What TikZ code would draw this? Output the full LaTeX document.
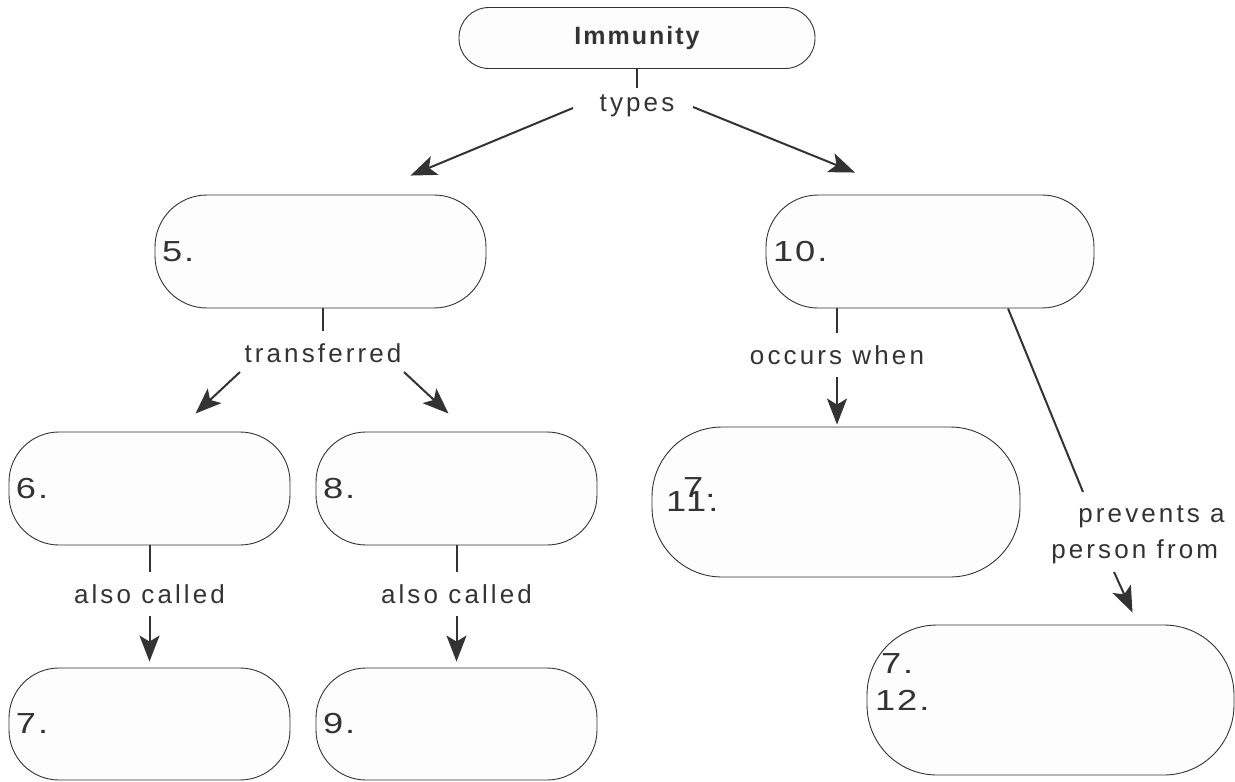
\documentclass[tikz,border=0pt]{standalone}
\usepackage{fontspec}
\setmainfont{Liberation Sans}[LetterSpace=12]
\newfontfamily\numfont{Liberation Sans}[FakeStretch=1.25, LetterSpace=7]
\newfontfamily\titlefont{Liberation Sans}[LetterSpace=8]
\usetikzlibrary{positioning,calc,arrows.meta}
\definecolor{inkgray}{HTML}{333333}
\definecolor{pillfill}{HTML}{FDFDFD}
\tikzset{
  concept/.style n args={3}{draw=inkgray, line width=0.9pt, fill=pillfill, rounded corners=#3,
    text width=#1, minimum height=#2, align=left, inner xsep=7pt, inner ysep=0pt,
    font=\numfont\fontsize{29}{37}\selectfont, text=inkgray},
  linkname/.style={font=\fontsize{26}{36}\selectfont, text=inkgray, text height=18pt,
    text depth=0pt, inner xsep=2pt, inner ysep=13pt},
  link/.style={draw=inkgray, line width=2pt},
  arr/.style={link, -{Stealth[length=26pt,width=20pt,inset=6pt]}},
}

\begin{document}
\begin{tikzpicture}[x=1pt,y=-1pt]
        \useasboundingbox (0,0) rectangle (1235,782);
        % concepts
        \node[concept={342pt}{61pt}{30pt}, align=center, font=\titlefont\fontsize{25}{28}\selectfont\bfseries] (immunity) at (637,38) {Immunity};
        \node[concept={317pt}{113pt}{52pt}] (n5) at (320.5,251.5) {5.};
        \node[concept={314pt}{113pt}{52pt}] (n10) at (930,251.5) {10.};
        \node[concept={267pt}{113pt}{50pt}] (n6) at (149.5,488.5) {6.};
        \node[concept={267pt}{113pt}{50pt}] (n8) at (456.5,488.5) {8.};
        \node[concept={267pt}{112pt}{50pt}] (n7) at (149.5,724) {7.};
        \node[concept={267pt}{112pt}{50pt}] (n9) at (456.5,724) {9.};
        \node[concept={354pt}{150pt}{70pt}] (n11) at (836,502) {\hspace{7pt}1\rlap{\smash{\hspace{-3pt}\raisebox{14pt}{7.}}}1.};
        \node[concept={353pt}{150pt}{70pt}] (n12) at (1050.5,700) {\hspace{1pt}\rlap{\smash{\hspace{6pt}\raisebox{37pt}{7.}}}12.};
        % linking phrases
        \node[linkname] (types) at (637,102) {types};
        \node[linkname] (transferred) at (323,353) {transferred};
        \node[linkname] (alsoA) at (149.5,594) {also called};
        \node[linkname] (alsoB) at (456.5,594) {also called};
        \node[linkname] (occurs) at (837,355) {occurs when};
        \node[font=\fontsize{26}{36}\selectfont, text=inkgray, align=left, inner sep=0pt] (prevent) at (1138,535) {\hspace{27pt}prevents a\\person from};
        % connectors
        \draw[link] (immunity.south) -- ([yshift=-8pt]types.north);
        \draw[arr] ($(types.center)+(-64,6)$) -- ($(n5.north)+(90,-19)$);
        \draw[arr] ($(types.center)+(56,5)$) -- ($(n10.north)+(-75,-22)$);
        \draw[link] (transferred.north |- n5.south) -- (transferred.north);
        \draw[arr] ($(transferred.center)+(-83,19)$) -- ($(n6.north)+(46,-18)$);
        \draw[arr] ($(transferred.center)+(81,19)$) -- ($(n8.north)+(-8,-18)$);
        \draw[link] (n6.south) -- (alsoA.north);
        \draw[arr, shorten >=6pt] (alsoA.south) -- (n7.north);
        \draw[link] (n8.south) -- (alsoB.north);
        \draw[arr, shorten >=6pt] (alsoB.south) -- (n9.north);
        \draw[link] (occurs.north |- n10.south) -- (occurs.north);
        \draw[arr, shorten >=2pt] (occurs.south) -- (occurs.south |- n11.north);
        \draw[link] ($(n10.south)+(78,0)$) -- ($(prevent.center)+(-55,-43)$);
        \draw[arr] ($(prevent.center)+(-24,37)$) -- ($(n12.north)+(82,-12)$);
    \end{tikzpicture}
\end{document}
